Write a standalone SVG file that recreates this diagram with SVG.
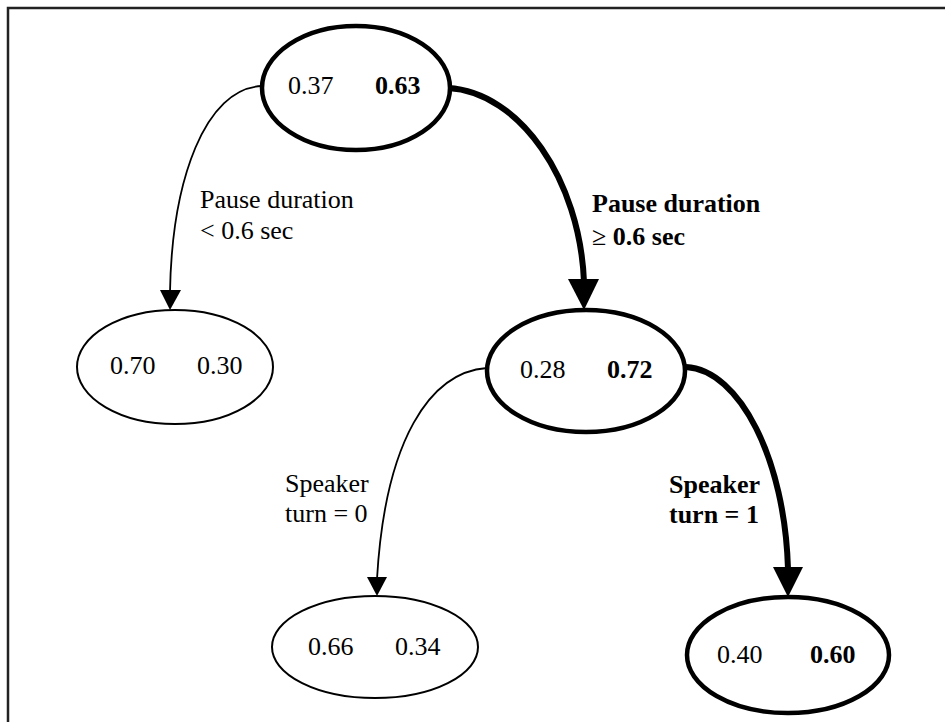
<svg xmlns="http://www.w3.org/2000/svg" width="945" height="722" viewBox="0 0 945 722">
  <style>
    text { font-family: "Liberation Serif", "Times New Roman", serif; font-size: 26px; fill: #000; }
    .b { font-weight: bold; }
    .node-thin { fill: #fff; stroke: #000; stroke-width: 2; }
    .node-thick { fill: #fff; stroke: #000; stroke-width: 4.5; }
    .edge-thin { fill: none; stroke: #000; stroke-width: 1.8; }
    .edge-thick { fill: none; stroke: #000; stroke-width: 6; }
    .head { fill: #000; stroke: none; }
  </style>
  <rect width="945" height="722" fill="#fff"/>
  <!-- outer frame (open on the right and bottom) -->
  <path d="M8,722 V8 H945" fill="none" stroke="#222" stroke-width="2.5"/>

  <g id="connectors">
    <!-- root -> left leaf -->
    <path class="edge-thin" d="M262,86 C205,88 172,180 170,292"/>
    <polygon class="head" points="160,290 181,290 170,310"/>
    <!-- root -> middle node -->
    <path class="edge-thick" d="M448,88 C520,92 580,180 584,282"/>
    <polygon class="head" points="568,279 599,279 584,310"/>
    <!-- middle -> bottom-left leaf -->
    <path class="edge-thin" d="M487,368 C430,372 385,440 377,579"/>
    <polygon class="head" points="367,577 387,577 377,596"/>
    <!-- middle -> bottom-right leaf -->
    <path class="edge-thick" d="M686,367 C740,370 785,460 788,569"/>
    <polygon class="head" points="773,567 803,567 788,597"/>

    <text x="200" y="208">Pause duration</text>
    <text x="200" y="239">&lt; 0.6 sec</text>
    <text class="b" x="592" y="212">Pause duration</text>
    <text class="b" x="592" y="245"><tspan font-weight="normal">≥</tspan> 0.6 sec</text>
    <text x="285" y="492">Speaker</text>
    <text x="285" y="522">turn = 0</text>
    <text class="b" x="669" y="493">Speaker</text>
    <text class="b" x="669" y="523">turn = 1</text>
  </g>

  <g id="root">
    <ellipse class="node-thick" cx="356" cy="88" rx="94" ry="62"/>
    <text x="288" y="94">0.37</text>
    <text class="b" x="375" y="94">0.63</text>
  </g>

  <g id="leaf-short-pause">
    <ellipse class="node-thin" cx="175" cy="367" rx="98" ry="57"/>
    <text x="110" y="374">0.70</text>
    <text x="197" y="374">0.30</text>
  </g>

  <g id="long-pause">
    <ellipse class="node-thick" cx="586" cy="371" rx="99" ry="61"/>
    <text x="520" y="378">0.28</text>
    <text class="b" x="607" y="378">0.72</text>
  </g>

  <g id="leaf-turn-0">
    <ellipse class="node-thin" cx="375" cy="647" rx="103" ry="51"/>
    <text x="308" y="655">0.66</text>
    <text x="395" y="655">0.34</text>
  </g>

  <g id="leaf-turn-1">
    <ellipse class="node-thick" cx="788" cy="655" rx="101" ry="58"/>
    <text x="717" y="663">0.40</text>
    <text class="b" x="810" y="663">0.60</text>
  </g>
</svg>
